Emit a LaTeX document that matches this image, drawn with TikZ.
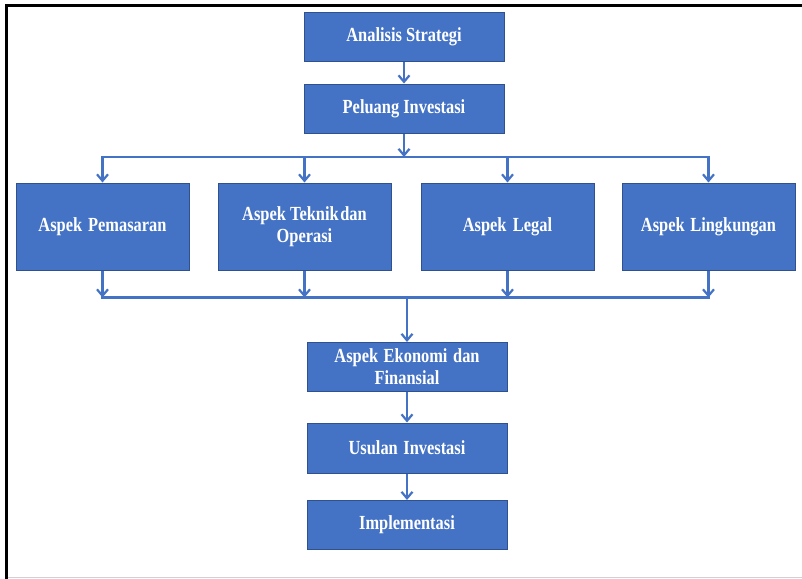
\documentclass[tikz,border=0pt]{standalone}
\usepackage{fontspec}
\usetikzlibrary{arrows.meta}
\newfontfamily\boxfont[FakeStretch=0.82]{Liberation Serif}
\definecolor{boxblue}{HTML}{4472C4}
\definecolor{boxedge}{HTML}{2F528F}
\tikzset{
  stepbox/.style={rectangle, draw=boxedge, line width=1pt, fill=boxblue,
    text=white, align=center, inner sep=2pt,
    font=\boxfont\bfseries\fontsize{20}{22}\selectfont},
  smallbox/.style={stepbox, minimum width=200pt, minimum height=49pt},
  aspectbox/.style={stepbox, minimum width=173pt, minimum height=87pt},
  link/.style={draw=boxblue, line width=2.5pt},
  arr/.style={link, -{Straight Barb[length=6.5pt,width=11pt,line width=2.2pt]}},
}
\begin{document}
\begin{tikzpicture}[x=1pt,y=-1pt]
\useasboundingbox (0,0) rectangle (802,578);
% outer frame
\draw[line width=3pt, line cap=rect] (6.5,578) -- (6.5,5.5) -- (802,5.5);
\draw[black!18, line width=1pt] (8,577.5) -- (802,577.5);

% top chain
\node[smallbox, minimum height=48pt] (strat) at (404,37) {Analisis Strategi};
\node[smallbox] (peluang) at (404,108.5) {Peluang Investasi};

% aspect boxes
\node[aspectbox] (pasar) at (102.5,226.5) {Aspek\hspace{0.3em}Pemasaran};
\node[aspectbox] (teknik) at (304.5,226.5) {Aspek Teknik\hspace{0.08em}dan\\Operasi};
\node[aspectbox] (legal) at (507.5,226.5) {Aspek\hspace{0.32em}Legal};
\node[aspectbox] (lingk) at (708.5,226.5) {Aspek\hspace{0.28em}Lingkungan};

% bottom chain
\node[smallbox] (ekon) at (407,367) {Aspek\hspace{0.28em}Ekonomi\hspace{0.28em}dan\\Finansial};
\node[smallbox, minimum height=50pt] (usulan) at (407,448) {Usulan\hspace{0.28em}Investasi};
\node[smallbox] (impl) at (407,525) {Implementasi};

% distribution and collection bars
\coordinate (split) at (404,157);
\coordinate (merge) at (407,297.5);

\draw[arr] (strat) -- (peluang);
\draw[arr] (peluang) -- (split);
\draw[link, line cap=rect] (pasar.north |- split) -- (lingk.north |- split);
\foreach \n in {pasar,teknik,legal,lingk}
  \draw[arr] (\n.north |- split) -- (\n.north);

\foreach \n in {pasar,teknik,legal,lingk}
  \draw[arr] (\n.south) -- (\n.south |- merge);
\draw[link, line cap=rect] (pasar.south |- merge) -- (lingk.south |- merge);
\draw[arr] (merge) -- (ekon);

\draw[arr] (ekon) -- (usulan);
\draw[arr] (usulan) -- (impl);
\end{tikzpicture}
\end{document}
